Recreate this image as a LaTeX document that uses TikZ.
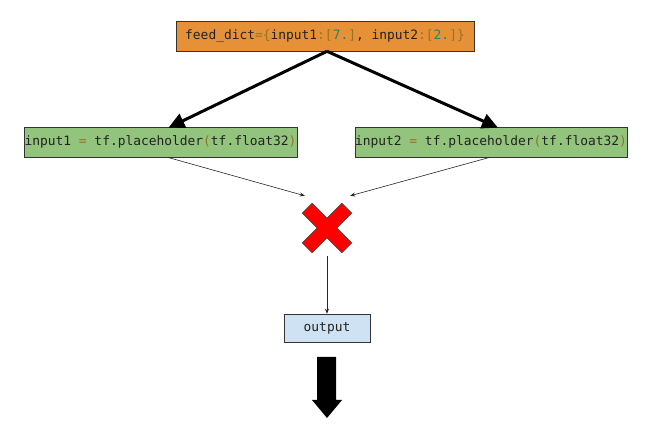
\documentclass[tikz,border=0pt]{standalone}
\usepackage{fontspec}
\setmonofont{DejaVu Sans Mono}
\usetikzlibrary{arrows.meta,calc}
\definecolor{boxorange}{HTML}{E69138}
\definecolor{boxgreen}{HTML}{93C47D}
\definecolor{boxblue}{HTML}{CFE2F3}
\definecolor{codeid}{HTML}{222222}
\definecolor{codeop}{HTML}{947322}
\definecolor{codenum}{HTML}{2E7F72}
\newcommand{\op}[1]{\textcolor{codeop}{#1}}
\newcommand{\num}[1]{\textcolor{codenum}{#1}}
\begin{document}
\begin{tikzpicture}[x=1pt,y=-1pt,
  codebox/.style={draw=black!80,line width=0.6pt,inner sep=0pt,
    font=\fontsize{12.9}{14}\selectfont\ttfamily,text=codeid,minimum height=30},
  bigarrow/.style={line width=3pt,-{Triangle[length=16pt,width=15pt]}},
  thinarrow/.style={line width=0.6pt,black!85,-{Stealth[length=5pt,width=4pt]}}]
\useasboundingbox (0,0) rectangle (646,427);
\node[codebox,fill=boxorange,minimum width=298] (feed) at (325,36)
  {feed\_dict\op{=\{}input1\op{:[}\num{7.}\op{]},~input2\op{:[}\num{2.}\op{]\}}};
\node[codebox,fill=boxgreen,minimum width=273] (in1) at (160.5,142)
  {input1~\op{=}~tf.placeholder\op{(}tf.float32\op{)}};
\node[codebox,fill=boxgreen,minimum width=272] (in2) at (491,142)
  {input2~\op{=}~tf.placeholder\op{(}tf.float32\op{)}};
\node[codebox,fill=boxblue,minimum width=86,minimum height=28] (out) at (327,328) {output};
\node[inner sep=0pt,minimum size=50] (mul) at (327,228) {};
% red cross
\begin{scope}[shift={(mul.center)},rotate=45]
\draw[fill=red,draw=black!70,line width=0.6pt]
  (7,-7) -- (28,-7) -- (28,7) -- (7,7) -- (7,28) -- (-7,28) -- (-7,7) -- (-28,7)
  -- (-28,-7) -- (-7,-7) -- (-7,-28) -- (7,-28) -- cycle;
\end{scope}
% arrows
\draw[bigarrow] ([xshift=2]feed.south) -- ([xshift=8,yshift=-1]in1.north);
\draw[bigarrow] ([xshift=2]feed.south) -- ([xshift=7,yshift=-1]in2.north);
\draw[thinarrow] ([xshift=7]in1.south) -- ([xshift=3,yshift=7]mul.north west);
\draw[thinarrow] ([xshift=-1]in2.south) -- ([xshift=-2,yshift=7]mul.north east);
\draw[thinarrow] ([yshift=-3]mul.south) -- (out.north);
% block arrow
\fill[black] (317,357) -- (336,357) -- (336,400) -- (342,400) -- (327,418) -- (312,400) -- (317,400) -- cycle;
\end{tikzpicture}
\end{document}
